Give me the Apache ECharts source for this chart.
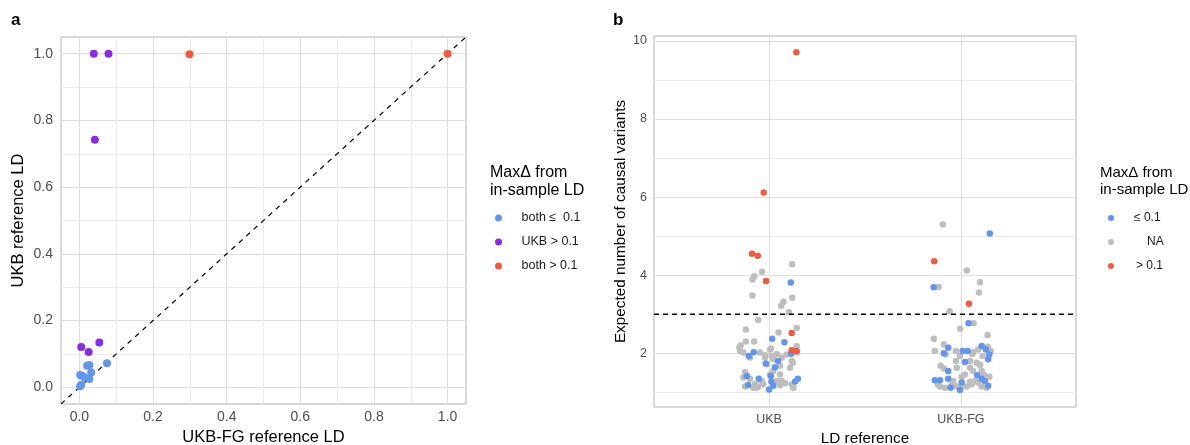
<!DOCTYPE html>
<html>
<head>
<meta charset="utf-8">
<script src="https://cdn.jsdelivr.net/npm/echarts@6/dist/echarts.min.js"></script>
<style>
html, body { margin: 0; padding: 0; background: #fff; }
#chart { width: 1190px; height: 445px; }
</style>
</head>
<body>
<div id="chart"></div>
<script>
// panel a: UKB-FG reference LD (x) vs UKB reference LD (y)
var ldBothLow = [[0.002, 0.003], [0.005, 0.008], [0.007, 0.035], [0.002, 0.037], [0.014, 0.030],
  [0.021, 0.065], [0.027, 0.067], [0.032, 0.045], [0.027, 0.025], [0.075, 0.072]];
var ldUkbHigh = [[0.039, 1.0], [0.079, 1.0], [0.042, 0.742], [0.005, 0.121], [0.025, 0.106], [0.054, 0.134]];
var ldBothHigh = [[0.299, 0.998], [1.0, 1.0]];
var diagonal = [[-0.05, -0.05], [1.05, 1.05]];
var ldTicks = [0, 0.2, 0.4, 0.6, 0.8, 1.0];

// panel b: expected number of causal variants, jittered around 1 (UKB) and 2 (UKB-FG)
var ldReference = ['UKB', 'UKB-FG'];
var causalLow = [
  [1.113, 3.81], [1.016, 2.37], [1.080, 2.28], [0.920, 2.03], [0.894, 1.93], [1.115, 1.99],
  [0.983, 1.74], [1.047, 1.80], [1.031, 1.64], [0.884, 1.42], [0.946, 1.35], [1.009, 1.42],
  [1.012, 1.27], [1.150, 1.35], [1.136, 1.28], [0.891, 1.19], [1.022, 1.17], [1.000, 1.07],
  [2.151, 5.07], [1.858, 3.69], [2.040, 2.77], [1.934, 2.14], [1.911, 2.00], [2.009, 2.06],
  [2.035, 2.06], [2.108, 2.19], [2.130, 2.10], [2.148, 1.97], [2.142, 1.85], [2.021, 1.78],
  [1.934, 1.55], [2.085, 1.44], [2.108, 1.35], [2.125, 1.29], [1.934, 1.35], [1.864, 1.31],
  [1.891, 1.31], [2.004, 1.25], [2.142, 1.17], [1.946, 1.12], [1.995, 1.06]
];
var causalNA = [
  [1.120, 4.28], [0.963, 4.09], [0.923, 3.97], [0.913, 3.89], [0.913, 3.48], [1.121, 3.42],
  [1.075, 3.32], [1.063, 3.21], [1.103, 3.05], [0.943, 2.85], [1.144, 2.65], [0.879, 2.61],
  [1.049, 2.53], [0.879, 2.30], [0.922, 2.30], [1.144, 2.19], [0.852, 2.20], [1.009, 2.12],
  [0.845, 2.15], [0.866, 2.02], [0.953, 2.02], [1.005, 2.10], [1.014, 1.93], [1.022, 1.85],
  [1.066, 1.89], [1.092, 1.97], [1.144, 2.02], [0.901, 1.89], [0.988, 1.72], [1.057, 1.68],
  [1.109, 1.63], [1.118, 1.80], [1.005, 1.46], [1.057, 1.46], [0.875, 1.52], [0.866, 1.38],
  [0.901, 1.34], [0.927, 1.21], [0.875, 1.15], [0.944, 1.15], [0.918, 1.12], [0.970, 1.21],
  [1.083, 1.23], [1.057, 1.18], [1.118, 1.21], [1.127, 1.12], [1.040, 1.29], [0.962, 1.29],
  [1.022, 1.55], [0.979, 1.89], [0.849, 2.06], [0.936, 1.12], [1.124, 1.76], [1.066, 1.29],
  [0.980, 1.95], [1.040, 1.98],
  [1.906, 5.30], [2.031, 4.12], [2.099, 3.82], [2.094, 3.56], [1.884, 3.70], [1.941, 3.08],
  [2.066, 2.77], [1.996, 2.63], [2.139, 2.47], [1.859, 2.37], [1.911, 2.23], [1.864, 2.06],
  [1.974, 2.06], [2.064, 2.03], [2.090, 2.10], [2.113, 1.93], [1.995, 1.93], [1.974, 1.80],
  [2.082, 1.76], [1.894, 1.68], [1.911, 1.61], [1.978, 1.63], [2.047, 1.63], [2.064, 1.55],
  [2.108, 1.55], [2.148, 1.40], [2.004, 1.40], [1.960, 1.29], [2.047, 1.27], [2.073, 1.29],
  [1.891, 1.15], [1.917, 1.12], [1.978, 1.15], [2.030, 1.15], [2.056, 1.21], [2.108, 1.15],
  [2.134, 1.12], [2.021, 1.46], [2.047, 1.80], [2.155, 2.06], [2.140, 2.17], [1.920, 1.97],
  [2.060, 1.98], [2.100, 1.70], [2.120, 1.45], [1.880, 1.20], [1.950, 1.18], [2.000, 1.12],
  [2.090, 1.25]
];
var causalHigh = [
  [1.142, 9.71], [0.972, 6.12], [0.911, 4.55], [0.941, 4.50], [0.984, 3.85], [1.118, 2.52],
  [1.118, 2.08], [1.144, 2.06], [1.861, 4.36], [2.042, 3.27]
];
var causalTicks = [2, 4, 6, 8, 10];
var causalCutoff = [[0.4, 3], [2.6, 3]];

var FONT = 'Liberation Sans, Arial, sans-serif';
var BLUE = '#6495ED', PURPLE = '#8A2BE2', RED = '#EF5B3F', GREY = '#BEBEBE';
var MAJOR = '#DEDEDE', MINOR = '#EBEBEB', NONE = 'rgba(0,0,0,0)';

function onTick(v, list) {
  for (var i = 0; i < list.length; i++) {
    if (Math.abs(v - list[i]) < 1e-6) return true;
  }
  return false;
}

var myChart = echarts.init(document.getElementById('chart'));

var option = {
  animation: false,
  textStyle: { fontFamily: FONT },
  title: [
    { text: 'a', left: 11, top: 12, padding: 0,
      textStyle: { fontFamily: FONT, fontSize: 17, fontWeight: 'bold', color: '#000' } },
    { text: 'b', left: 613, top: 12, padding: 0,
      textStyle: { fontFamily: FONT, fontSize: 17, fontWeight: 'bold', color: '#000' } },
    { text: 'MaxΔ from\nin-sample LD', left: 490, top: 164, padding: 0,
      textStyle: { fontFamily: FONT, fontSize: 16, fontWeight: 'normal', lineHeight: 17.5, color: '#000' } },
    { text: 'MaxΔ from\nin-sample LD', left: 1100, top: 164, padding: 0,
      textStyle: { fontFamily: FONT, fontSize: 15, fontWeight: 'normal', lineHeight: 17, color: '#000' } }
  ],
  legend: [
    {
      data: ['both ≤  0.1', 'UKB > 0.1', 'both > 0.1'],
      orient: 'vertical', left: 495, top: 211, padding: 0,
      itemWidth: 36, itemHeight: 7, itemGap: 10, icon: 'circle', selectedMode: false,
      textStyle: { fontFamily: FONT, fontSize: 12.5, lineHeight: 14, color: '#1a1a1a' }
    },
    {
      data: ['≤ 0.1', 'NA', '> 0.1'],
      orient: 'vertical', left: 1108, top: 211, padding: 0,
      itemWidth: 36, itemHeight: 6, itemGap: 10, icon: 'circle', selectedMode: false,
      formatter: function (name) {
        if (name === 'NA') return '{na|' + name + '}';
        if (name === '> 0.1') return '{gt|' + name + '}';
        return name;
      },
      textStyle: {
        fontFamily: FONT, fontSize: 12, lineHeight: 14, color: '#1a1a1a',
        rich: {
          na: { fontFamily: FONT, fontSize: 12, padding: [0, 0, 0, 13], color: '#1a1a1a' },
          gt: { fontFamily: FONT, fontSize: 12, padding: [0, 0, 0, 2], color: '#1a1a1a' }
        }
      }
    }
  ],
  grid: [
    { left: 61, top: 37, width: 405, height: 367, show: true, borderColor: '#B3B3B3', borderWidth: 1,
      containLabel: false, outerBoundsMode: 'none' },
    { left: 654, top: 36, width: 422, height: 371, show: true, borderColor: '#B3B3B3', borderWidth: 1,
      containLabel: false, outerBoundsMode: 'none' }
  ],
  xAxis: [
    {
      gridIndex: 0, type: 'value', min: -0.05, max: 1.05, interval: 0.05,
      name: 'UKB-FG reference LD', nameLocation: 'middle', nameGap: 23,
      nameTextStyle: { fontFamily: FONT, fontSize: 16.5, color: '#000' },
      axisLine: { show: false, onZero: false }, axisTick: { show: false },
      axisLabel: {
        margin: 6, fontSize: 14, color: '#4D4D4D', fontFamily: FONT,
        formatter: function (v) { return onTick(v, ldTicks) ? v.toFixed(1) : ''; }
      },
      splitLine: { show: true, lineStyle: { width: 1, color: [NONE, MAJOR, NONE, MINOR] } }
    },
    {
      gridIndex: 1, type: 'value', min: 0.4, max: 2.6, interval: 0.2,
      name: 'LD reference', nameLocation: 'middle', nameGap: 22,
      nameTextStyle: { fontFamily: FONT, fontSize: 15.3, color: '#000' },
      axisLine: { show: false, onZero: false }, axisTick: { show: false },
      axisLabel: {
        margin: 6, fontSize: 12.5, color: '#4D4D4D', fontFamily: FONT,
        formatter: function (v) {
          if (Math.abs(v - 1) < 1e-6) return ldReference[0];
          if (Math.abs(v - 2) < 1e-6) return ldReference[1];
          return '';
        }
      },
      splitLine: { show: true, lineStyle: { width: 1, color: [NONE, NONE, NONE, MAJOR, NONE] } }
    }
  ],
  yAxis: [
    {
      gridIndex: 0, type: 'value', min: -0.05, max: 1.05, interval: 0.05,
      name: 'UKB reference LD', nameLocation: 'middle', nameGap: 34,
      nameTextStyle: { fontFamily: FONT, fontSize: 16.5, color: '#000' },
      axisLine: { show: false, onZero: false }, axisTick: { show: false },
      axisLabel: {
        margin: 8, fontSize: 14, color: '#4D4D4D', fontFamily: FONT,
        formatter: function (v) { return onTick(v, ldTicks) ? v.toFixed(1) : ''; }
      },
      splitLine: { show: true, lineStyle: { width: 1, color: [NONE, MAJOR, NONE, MINOR] } }
    },
    {
      gridIndex: 1, type: 'value', min: 0.625, max: 10.125, interval: 0.125,
      name: 'Expected number of causal variants', nameLocation: 'middle', nameGap: 26,
      nameTextStyle: { fontFamily: FONT, fontSize: 15.3, color: '#000' },
      axisLine: { show: false, onZero: false }, axisTick: { show: false },
      axisLabel: {
        margin: 7, fontSize: 12.5, color: '#4D4D4D', fontFamily: FONT,
        formatter: function (v) { return onTick(v, causalTicks) ? String(Math.round(v)) : ''; }
      },
      splitLine: {
        show: true,
        lineStyle: {
          width: 1,
          color: [NONE, NONE, NONE, MINOR, NONE, NONE, NONE, NONE,
                  NONE, NONE, NONE, MAJOR, NONE, NONE, NONE, NONE]
        }
      }
    }
  ],
  series: [
    {
      type: 'line', xAxisIndex: 0, yAxisIndex: 0, data: diagonal, showSymbol: false, silent: true,
      lineStyle: { color: '#000', width: 1.2, type: [5, 5] }, z: 1
    },
    { name: 'both ≤  0.1', type: 'scatter', xAxisIndex: 0, yAxisIndex: 0, data: ldBothLow,
      symbolSize: 8, itemStyle: { color: BLUE, opacity: 1 }, z: 2 },
    { name: 'UKB > 0.1', type: 'scatter', xAxisIndex: 0, yAxisIndex: 0, data: ldUkbHigh,
      symbolSize: 8, itemStyle: { color: PURPLE, opacity: 1 }, z: 2 },
    { name: 'both > 0.1', type: 'scatter', xAxisIndex: 0, yAxisIndex: 0, data: ldBothHigh,
      symbolSize: 8, itemStyle: { color: RED, opacity: 1 }, z: 2 },

    { name: 'NA', type: 'scatter', xAxisIndex: 1, yAxisIndex: 1, data: causalNA,
      symbolSize: 6.5, itemStyle: { color: GREY, opacity: 1 }, z: 2 },
    { name: '≤ 0.1', type: 'scatter', xAxisIndex: 1, yAxisIndex: 1, data: causalLow,
      symbolSize: 6.5, itemStyle: { color: BLUE, opacity: 1 }, z: 3 },
    { name: '> 0.1', type: 'scatter', xAxisIndex: 1, yAxisIndex: 1, data: causalHigh,
      symbolSize: 6.5, itemStyle: { color: RED, opacity: 1 }, z: 3 },
    {
      type: 'line', xAxisIndex: 1, yAxisIndex: 1, data: causalCutoff, showSymbol: false, silent: true,
      lineStyle: { color: '#000', width: 1.3, type: [5, 4] }, z: 4
    }
  ]
};

option && myChart.setOption(option);
</script>
</body>
</html>
